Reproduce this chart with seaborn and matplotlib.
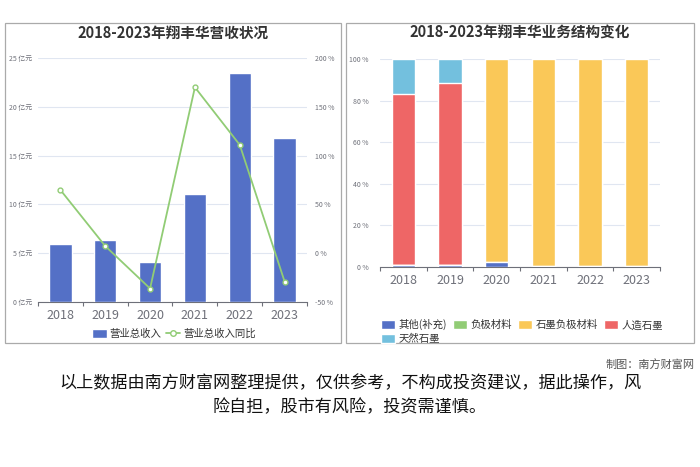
import numpy as np
import pandas as pd
import matplotlib
matplotlib.use('Agg')
import matplotlib.pyplot as plt
import seaborn as sns
from matplotlib.patches import Rectangle
from matplotlib.lines import Line2D

# data
years = ['2018', '2019', '2020', '2021', '2022', '2023']
revenue = [5.94, 6.38, 4.07, 11.07, 23.5, 16.77]          # 亿元
revenue_yoy = [64.8, 7.3, -36.2, 170.0, 111.0, -29.0]     # %

segments = ['其他(补充)', '负极材料', '石墨负极材料', '人造石墨', '天然石墨']
seg_other = [0.8, 0.8, 2.1, 0.2, 0.5, 0.5]
seg_anode = [0, 0, 0, 0, 0, 0]
seg_graphite_anode = [0, 0, 97.9, 99.8, 99.5, 99.5]
seg_artificial = [82.3, 87.6, 0, 0, 0, 0]
seg_natural = [16.9, 11.6, 0, 0, 0, 0]

seg_colors = ['#5470c6', '#91cc75', '#fac858', '#ee6666', '#73c0de']

sns.set_theme(style='white')
plt.rcParams['font.family'] = ['Noto Sans CJK SC', 'DejaVu Sans']

grid_c = '#e0e6f1'
axis_c = '#6e7079'
txt_c = '#6e7079'

fig = plt.figure(figsize=(7, 4.67), dpi=100)

# panel borders
for x0, x1 in [(5, 341), (346, 694)]:
    fig.patches.append(Rectangle((x0 / 700, 1 - 343 / 467), (x1 - x0) / 700, (343 - 23) / 467,
                                 transform=fig.transFigure, fill=False, edgecolor='#aaaaaa', lw=0.9))

# ---------- left: revenue ----------
ax = fig.add_axes([38 / 700, 1 - 302 / 467, (307 - 38) / 700, (302 - 58) / 467])
df = pd.DataFrame({'year': years, 'rev': revenue, 'yoy': revenue_yoy})
sns.barplot(data=df, x='year', y='rev', color='#5470c6', width=0.5, saturation=1, ax=ax, zorder=3)
ax.set_ylim(0, 25)
ax.set_xlim(-0.5, 5.5)
ax.set_yticks([0, 5, 10, 15, 20, 25])
ax.set_yticklabels([f'{v} 亿元' for v in [0, 5, 10, 15, 20, 25]], fontsize=5, color=txt_c)
ax.yaxis.grid(True, color=grid_c, lw=0.8, zorder=0)
ax.set_axisbelow(True)
ax.set_xlabel('')
ax.set_ylabel('')
for s in ['top', 'right', 'left']:
    ax.spines[s].set_visible(False)
ax.spines['bottom'].set_color(axis_c)
ax.spines['bottom'].set_linewidth(0.8)
ax.tick_params(axis='x', labelsize=9, colors=txt_c, length=0, pad=5)
ax.tick_params(axis='y', length=0, pad=4)
ax.set_xticks(np.arange(-0.5, 6, 1), minor=True)
ax.tick_params(axis='x', which='minor', length=3, color=axis_c, width=0.8, bottom=True)

ax2 = ax.twinx()
sns.lineplot(data=df, x='year', y='yoy', color='#91cc75', lw=1.3, marker='o', markersize=3.5,
             markerfacecolor='white', markeredgecolor='#91cc75', markeredgewidth=1, ax=ax2, zorder=5)
ax2.set_ylim(-50, 200)
ax2.set_yticks([-50, 0, 50, 100, 150, 200])
ax2.set_yticklabels([f'{v} %' for v in [-50, 0, 50, 100, 150, 200]], fontsize=5, color=txt_c)
ax2.tick_params(axis='y', length=0, pad=6)
ax2.set_ylabel('')
for s in ax2.spines.values():
    s.set_visible(False)

fig.text(173 / 700, 1 - 33 / 467, '2018-2023年翔丰华营收状况', fontsize=10.5, fontweight='bold',
         color='#333333', ha='center', va='center')

h1 = Rectangle((0, 0), 1, 1, facecolor='#5470c6')
h2 = Line2D([], [], color='#91cc75', lw=1.3, marker='o', markersize=4,
            markerfacecolor='white', markeredgecolor='#91cc75')
fig.legend([h1, h2], ['营业总收入', '营业总收入同比'], loc='center', bbox_to_anchor=(174 / 700, 1 - 334 / 467),
           ncol=2, frameon=False, fontsize=7.5, labelcolor='#333333', handlelength=1.4, handleheight=0.9,
           columnspacing=0.4, handletextpad=0.3)

# ---------- right: business structure ----------
bx = fig.add_axes([380 / 700, 1 - 266.7 / 467, 280 / 700, (266.7 - 59.3) / 467])
stack = np.array([seg_other, seg_anode, seg_graphite_anode, seg_artificial, seg_natural])
cum = np.cumsum(stack, axis=0)
# draw cumulative bars from the top segment down so each shows its own band
for i in range(len(segments) - 1, -1, -1):
    sdf = pd.DataFrame({'year': years, 'v': cum[i]})
    sns.barplot(data=sdf, x='year', y='v', color=seg_colors[i], width=0.5, saturation=1, ax=bx, zorder=3)
bx.set_ylim(0, 100)
bx.set_xlim(-0.5, 5.5)
bx.set_yticks([0, 20, 40, 60, 80, 100])
bx.set_yticklabels([f'{v} %' for v in [0, 20, 40, 60, 80, 100]], fontsize=5, color=txt_c)
bx.yaxis.grid(True, color=grid_c, lw=0.8, zorder=0)
bx.set_axisbelow(True)
bx.set_xlabel('')
bx.set_ylabel('')
for s in ['top', 'right', 'left']:
    bx.spines[s].set_visible(False)
bx.spines['bottom'].set_color(axis_c)
bx.spines['bottom'].set_linewidth(0.8)
bx.tick_params(axis='x', labelsize=9, colors=txt_c, length=0, pad=5)
bx.tick_params(axis='y', length=0, pad=8)
bx.set_xticks(np.arange(-0.5, 6, 1), minor=True)
bx.tick_params(axis='x', which='minor', length=3, color=axis_c, width=0.8, bottom=True)

fig.text(520 / 700, 1 - 33 / 467, '2018-2023年翔丰华业务结构变化', fontsize=10.5, fontweight='bold',
         color='#333333', ha='center', va='center')

handles = [Rectangle((0, 0), 1, 1, facecolor=c) for c in seg_colors]
order = [0, 4, 1, 2, 3]
fig.legend([handles[i] for i in order], [segments[i] for i in order], loc='upper left',
           bbox_to_anchor=(372 / 700, 1 - 310 / 467), ncol=4, frameon=False, fontsize=7.5,
           labelcolor='#333333', handlelength=1.35, handleheight=0.9, columnspacing=0.6,
           handletextpad=0.3, labelspacing=0.3)

# footer
fig.text(695 / 700, 1 - 364 / 467, '制图：南方财富网', fontsize=8, color='#555555', ha='right', va='center')
fig.text(350 / 700, 1 - 383 / 467, '以上数据由南方财富网整理提供，仅供参考，不构成投资建议，据此操作，风', fontsize=12.3,
         color='#111111', ha='center', va='center')
fig.text(350 / 700, 1 - 407 / 467, '险自担，股市有风险，投资需谨慎。', fontsize=12.3,
         color='#111111', ha='center', va='center')

fig.savefig('out.png', dpi=100)
